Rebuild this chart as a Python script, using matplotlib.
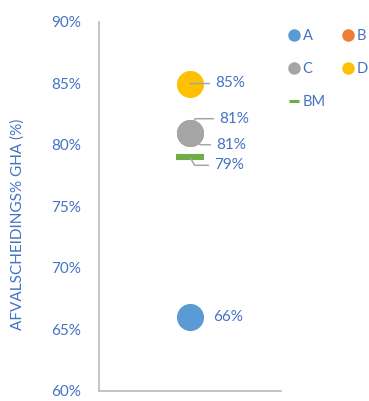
import matplotlib
matplotlib.use("Agg")
import matplotlib.pyplot as plt
from matplotlib.lines import Line2D
from matplotlib.ticker import PercentFormatter

plt.rcParams['font.family'] = ['Lato', 'DejaVu Sans']

# Data
categories = ["A", "B", "C", "D"]
values = [0.66, 0.81, 0.81, 0.85]
colors = ["#5B9BD5", "#ED7D31", "#A5A5A5", "#FFC000"]
bm_label = "BM"
bm_value = 0.79
bm_color = "#70AD47"
y_ticks = [0.60, 0.65, 0.70, 0.75, 0.80, 0.85, 0.90]
y_label = "AFVALSCHEIDINGS% GHA (%)"

text_blue = "#4472C4"
leader_gray = "#A6A6A6"
spine_gray = "#BFBFBF"

fig = plt.figure(figsize=(3.69, 4.01), dpi=100)
ax = fig.add_axes([99 / 369, 10 / 401, 182 / 369, 369 / 401])

x_pos = 1.0
handles = {}
for cat, val, col in zip(categories, values, colors):
    h, = ax.plot([x_pos], [val], marker="o", markersize=19.5, color=col,
                 markeredgewidth=0, linestyle="none", label=cat, zorder=3)
    handles[cat] = h
bm, = ax.plot([x_pos], [bm_value], marker="_", markersize=20.5,
              markeredgewidth=4.4, color=bm_color, linestyle="none",
              label=bm_label, zorder=3)
handles[bm_label] = bm

ax.set_xlim(0, 2)
ax.set_ylim(y_ticks[0], y_ticks[-1])
ax.set_yticks(y_ticks)
ax.yaxis.set_major_formatter(PercentFormatter(1.0, decimals=0))
ax.tick_params(axis="y", length=0, pad=13, labelsize=11, labelcolor=text_blue)
ax.set_xticks([])
for side in ("top", "right"):
    ax.spines[side].set_visible(False)
for side in ("left", "bottom"):
    ax.spines[side].set_color(spine_gray)
    ax.spines[side].set_linewidth(1.3)

fig.text(18 / 369, 1 - 224 / 401, y_label, rotation=90, ha="center",
         va="center", color=text_blue, fontsize=11)

# Data labels with leader lines
def pct(v):
    return f"{v * 100:.0f}%"

label_specs = [
    # (value, offset px, connection style, shrinkB)
    (values[3], (25, 0), "arc3", 0),
    (values[1], (29, 14), "angle,angleA=0,angleB=70,rad=0", 9),
    (values[2], (26, -12), "angle,angleA=0,angleB=-50,rad=0", 9),
    (bm_value, (24, -8), "angle,angleA=0,angleB=-60,rad=0", 1),
]
for val, off, cstyle, shrink_b in label_specs:
    ax.annotate(pct(val), xy=(x_pos, val), xytext=off,
                textcoords="offset pixels", ha="left", va="center",
                fontsize=11, color=text_blue, zorder=4,
                arrowprops=dict(arrowstyle="-", color=leader_gray, lw=1.1,
                                shrinkA=2, shrinkB=shrink_b,
                                connectionstyle=cstyle))
ax.annotate(pct(values[0]), xy=(x_pos, values[0]), xytext=(23, 0),
            textcoords="offset pixels", ha="left", va="center",
            fontsize=11, color=text_blue)

legend_order = ["A", "C", bm_label, "B", "D"]
leg_handles = []
for name in legend_order:
    h = handles[name]
    if name == bm_label:
        leg_handles.append(Line2D([], [], marker="_", markersize=7.5,
                                  markeredgewidth=2.2, color=bm_color,
                                  linestyle="none"))
    else:
        leg_handles.append(Line2D([], [], marker="o", markersize=9,
                                  markeredgewidth=0, color=h.get_color(),
                                  linestyle="none"))
fig.legend(leg_handles, legend_order, ncol=2, loc="upper left",
           bbox_to_anchor=(288 / 369, 1 - 29 / 401), frameon=False,
           fontsize=10.5, labelcolor=text_blue, handlelength=0.8,
           handletextpad=0.2, columnspacing=1.1, labelspacing=1.3,
           borderpad=0, borderaxespad=0)

fig.savefig("out.png", dpi=100)
